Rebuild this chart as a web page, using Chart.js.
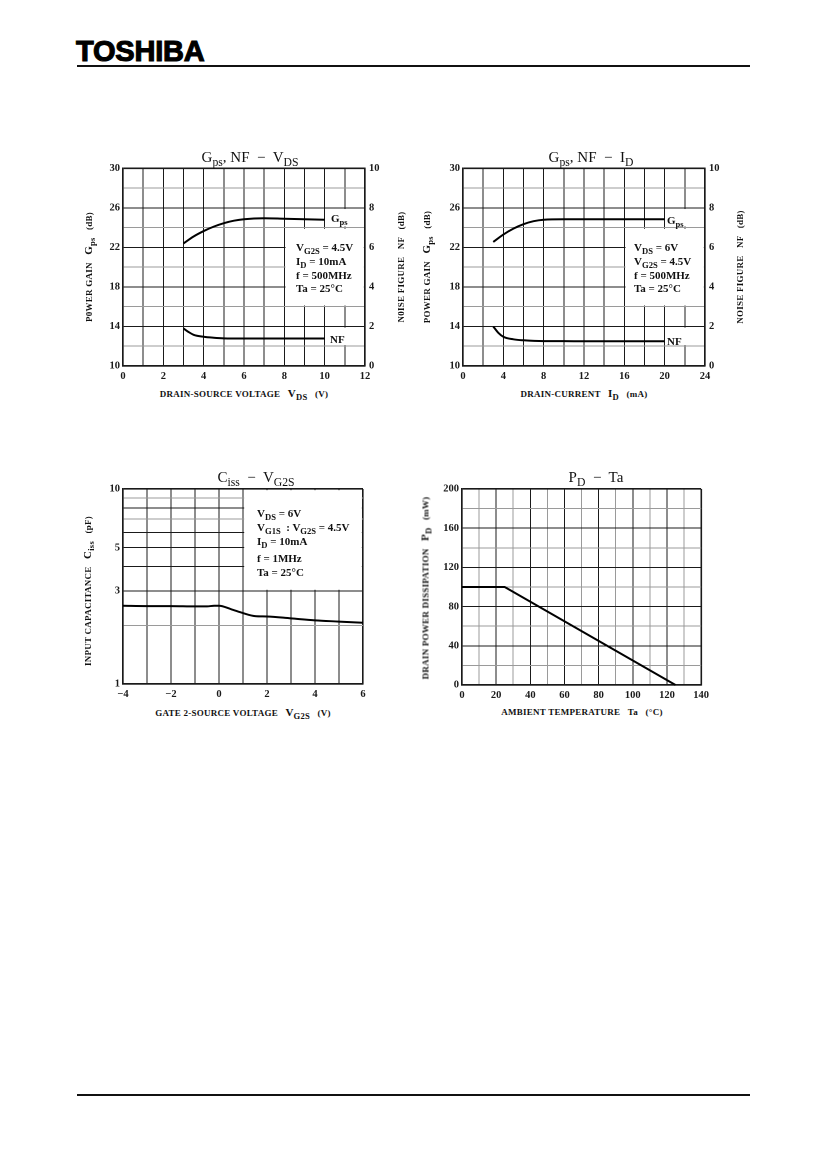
<!DOCTYPE html>
<html><head><meta charset="utf-8">
<script src="https://cdn.jsdelivr.net/npm/chart.js@4.4.1/dist/chart.umd.min.js"></script>
<style>
html,body{margin:0;padding:0;background:#fff;}
body{width:827px;height:1169px;position:relative;overflow:hidden;font-family:"Liberation Serif","DejaVu Serif",serif;color:#111;}
.abs{position:absolute;white-space:nowrap;line-height:1;}
.c{transform:translate(-50%,-50%);}
.l{transform:translate(0,-50%);}
.r{transform:translate(-50%,-50%) rotate(-90deg);}
.s{font-size:78%;position:relative;top:0.3em;}
.ttl{font-size:15px;}
.ax{font-size:9px;font-weight:bold;letter-spacing:0.25px;}
.sy{font-size:11px;font-weight:bold;}
.lg{font-size:11px;font-weight:bold;}
canvas{position:absolute;}
#logo{position:absolute;left:76px;top:37px;font-family:"Liberation Sans","DejaVu Sans",sans-serif;font-weight:900;font-size:29px;letter-spacing:-0.2px;-webkit-text-stroke:1.1px #000;color:#000;line-height:1;transform:scale(1.0,1.02);transform-origin:left top;}
.hr{position:absolute;background:#111;}
</style></head><body>
<div id="logo">TOSHIBA</div>
<div class="hr" style="left:77px;top:65px;width:673px;height:1.5px;"></div>
<div class="hr" style="left:77px;top:1094px;width:673px;height:2px;"></div>

<canvas id="c1" width="322" height="228" style="left:83px;top:158px;width:322px;height:228px;"></canvas>
<canvas id="c2" width="322" height="228" style="left:423px;top:158px;width:322px;height:228px;"></canvas>
<canvas id="c3" width="290" height="225" style="left:83px;top:479px;width:290px;height:225px;"></canvas>
<canvas id="c4" width="291" height="226" style="left:422px;top:479px;width:291px;height:226px;"></canvas>

<!-- Chart 1 texts -->
<div class="abs c ttl" style="left:250px;top:157px;">G<span class="s">ps</span>, NF &nbsp;−&nbsp; V<span class="s">DS</span></div>
<div class="abs l lg" style="left:296px;top:247px;">V<span class="s">G2S</span> = 4.5V</div>
<div class="abs l lg" style="left:296px;top:261px;">I<span class="s">D</span> = 10mA</div>
<div class="abs l lg" style="left:296px;top:275px;">f = 500MHz</div>
<div class="abs l lg" style="left:296px;top:288px;">Ta = 25°C</div>
<div class="abs l lg" style="left:331px;top:218px;">G<span class="s">ps</span></div>
<div class="abs l lg" style="left:330px;top:339px;">NF</div>
<div class="abs c ax" style="left:244px;top:393px;">DRAIN-SOURCE VOLTAGE &nbsp;&nbsp;<span class="sy">V<span class="s">DS</span></span> &nbsp;&nbsp;(V)</div>
<div class="abs r ax" style="left:88px;top:267px;">P0WER GAIN &nbsp;&nbsp;<span class="sy">G<span class="s">ps</span></span> &nbsp;&nbsp;(dB)</div>
<div class="abs r ax" style="left:401px;top:267px;">N0ISE FIGURE &nbsp;&nbsp;NF &nbsp;&nbsp;(dB)</div>

<!-- Chart 2 texts -->
<div class="abs c ttl" style="left:591px;top:157px;">G<span class="s">ps</span>, NF &nbsp;−&nbsp; I<span class="s">D</span></div>
<div class="abs l lg" style="left:634px;top:247px;">V<span class="s">DS</span> = 6V</div>
<div class="abs l lg" style="left:634px;top:261px;">V<span class="s">G2S</span> = 4.5V</div>
<div class="abs l lg" style="left:634px;top:275px;">f = 500MHz</div>
<div class="abs l lg" style="left:634px;top:288px;">Ta = 25°C</div>
<div class="abs l lg" style="left:667px;top:220px;">G<span class="s">ps</span></div>
<div class="abs l lg" style="left:667px;top:341px;">NF</div>
<div class="abs c ax" style="left:584px;top:393px;">DRAIN-CURRENT &nbsp;&nbsp;<span class="sy">I<span class="s">D</span></span> &nbsp;&nbsp;(mA)</div>
<div class="abs r ax" style="left:426px;top:267px;">POWER GAIN &nbsp;&nbsp;<span class="sy">G<span class="s">ps</span></span> &nbsp;&nbsp;(dB)</div>
<div class="abs r ax" style="left:740px;top:267px;">NOISE FIGURE &nbsp;&nbsp;NF &nbsp;&nbsp;(dB)</div>

<!-- Chart 3 texts -->
<div class="abs c ttl" style="left:256px;top:477px;">C<span class="s">iss</span> &nbsp;−&nbsp; V<span class="s">G2S</span></div>
<div class="abs l lg" style="left:257px;top:513px;">V<span class="s">DS</span> = 6V</div>
<div class="abs l lg" style="left:257px;top:527px;">V<span class="s">G1S</span> &nbsp;: V<span class="s">G2S</span> = 4.5V</div>
<div class="abs l lg" style="left:257px;top:541px;">I<span class="s">D</span> = 10mA</div>
<div class="abs l lg" style="left:257px;top:558px;">f = 1MHz</div>
<div class="abs l lg" style="left:257px;top:572px;">Ta = 25°C</div>
<div class="abs c ax" style="left:243px;top:712px;">GATE 2-SOURCE VOLTAGE &nbsp;&nbsp;<span class="sy">V<span class="s">G2S</span></span> &nbsp;&nbsp;(V)</div>
<div class="abs r ax" style="left:87px;top:591px;">INPUT CAPACITANCE &nbsp;&nbsp;<span class="sy">C<span class="s">iss</span></span> &nbsp;&nbsp;(pF)</div>

<!-- Chart 4 texts -->
<div class="abs c ttl" style="left:596px;top:477px;">P<span class="s">D</span> &nbsp;−&nbsp; Ta</div>
<div class="abs c ax" style="left:582px;top:712px;">AMBIENT TEMPERATURE &nbsp;&nbsp;Ta &nbsp;&nbsp;(°C)</div>
<div class="abs r ax" style="left:425px;top:588px;">DRAIN POWER DISSIPATION &nbsp;&nbsp;<span class="sy">P<span class="s">D</span></span> &nbsp;&nbsp;(mW)</div>

<script>
// ---------------- DATA ----------------
// Chart 1: Gps, NF vs VDS
const vdsGps = [3, 3.5, 4, 4.5, 5, 5.5, 6, 7, 8, 9, 10];
const gpsVsVds = [22.4, 23.1, 23.65, 24.1, 24.45, 24.7, 24.85, 24.95, 24.9, 24.85, 24.8];
const vdsNf = [3, 3.25, 3.5, 4, 4.5, 5, 6, 7, 8, 9, 10];
const nfVsVds = [1.9, 1.72, 1.58, 1.48, 1.43, 1.4, 1.39, 1.39, 1.39, 1.39, 1.39];
const vdsTicks = [0, 2, 4, 6, 8, 10, 12];

// Chart 2: Gps, NF vs ID
const idGps = [3, 4, 5, 6, 7, 8, 10, 12, 14, 16, 18, 20];
const gpsVsId = [22.55, 23.3, 23.9, 24.35, 24.65, 24.8, 24.85, 24.85, 24.85, 24.85, 24.85, 24.85];
const idNf = [3, 3.5, 4, 5, 6, 8, 10, 12, 16, 20];
const nfVsId = [2.0, 1.68, 1.48, 1.35, 1.3, 1.26, 1.26, 1.25, 1.25, 1.25];
const idTicks = [0, 4, 8, 12, 16, 20, 24];

const gpsTicks = [10, 14, 18, 22, 26, 30];
const nfTicks = [0, 2, 4, 6, 8, 10];

// Chart 3: Ciss vs VG2S
const vg2s = [-4, -3, -2, -1, -0.5, -0.2, 0, 0.5, 1, 1.5, 2, 3, 4, 5, 6];
const ciss = [2.52, 2.51, 2.51, 2.5, 2.5, 2.52, 2.52, 2.42, 2.31, 2.23, 2.22, 2.17, 2.12, 2.09, 2.06];
const vg2sTicks = [-4, -2, 0, 2, 4, 6];
const cissGrid = [1, 2, 3, 4, 5, 6, 7, 8, 9, 10];
const cissTicks = [1, 3, 5, 10];

// Chart 4: PD vs Ta
const ta = [0, 25, 125];
const pd = [100, 100, 0];
const taTicks = [0, 20, 40, 60, 80, 100, 120, 140];
const pdTicks = [0, 40, 80, 120, 160, 200];

// ---------------- HELPERS ----------------
const pts = (xs, ys) => xs.map((x, i) => ({x, y: ys[i]}));
const fmt = v => (v < 0 ? '\u2212' + Math.abs(v) : String(v));
const TICKFONT = {family: '"Liberation Serif","DejaVu Serif",serif', size: 10.5, weight: 'bold'};
const DARK = '#1a1a1a', GRAY = '#9a9a9a';

function gridOpts(minorTest, lo, hi) {
  return {
    drawTicks: false,
    color: ctx => {
      const v = ctx.tick ? ctx.tick.value : null;
      if (v === lo || v === hi) return DARK;
      return (v !== null && minorTest(v)) ? GRAY : DARK;
    },
    lineWidth: ctx => {
      const v = ctx.tick ? ctx.tick.value : null;
      return (v === lo || v === hi) ? 1.6 : 1;
    }
  };
}
function fixW(w) { return s => { s.width = w; }; }
function fixH(h) { return s => { s.height = h; }; }

const boxPlugin = {
  id: 'boxes',
  beforeDatasetsDraw(chart, args, opts) {
    const {ctx, scales} = chart;
    (opts.list || []).forEach(b => {
      const xs = scales.x, ys = scales.y;
      const l = xs.getPixelForValue(b.x0), r = xs.getPixelForValue(b.x1);
      const t = ys.getPixelForValue(b.y1), bt = ys.getPixelForValue(b.y0);
      ctx.save();
      ctx.fillStyle = '#fff';
      ctx.fillRect(l + 1.2, t + 1.2, r - l - 2.4, bt - t - 2.4);
      ctx.restore();
    });
  }
};

function lineDs(data, axis, straight) {
  return {data, yAxisID: axis || 'y', borderColor: '#000', borderWidth: 2, pointRadius: 0,
          tension: straight ? 0 : 0.4, cubicInterpolationMode: straight ? 'default' : 'monotone',
          fill: false, clip: false};
}

function gainChart(id, xMax, xStep, xLabels, gps, nf, boxes) {
  new Chart(document.getElementById(id), {
    type: 'line',
    data: {datasets: [lineDs(gps, 'y'), lineDs(nf, 'y2')]},
    plugins: [boxPlugin],
    options: {
      responsive: false, animation: false, devicePixelRatio: 2,
      layout: {padding: {top: 10, left: 0, right: 0, bottom: 0}},
      plugins: {legend: {display: false}, tooltip: {enabled: false}, boxes: {list: boxes}},
      scales: {
        x: {type: 'linear', min: 0, max: xMax, afterFit: fixH(20),
            afterBuildTicks: ax => { const t = []; for (let v = 0; v <= xMax; v += xStep) t.push({value: v}); ax.ticks = t; },
            ticks: {autoSkip: false, maxRotation: 0, padding: 4, color: DARK, font: TICKFONT,
                    callback: v => xLabels.includes(v) ? fmt(v) : ''},
            grid: gridOpts(() => false, 0, xMax), border: {color: DARK, width: 1.6}},
        y: {type: 'linear', position: 'left', min: 10, max: 30, afterFit: fixW(40),
            afterBuildTicks: ax => { const t = []; for (let v = 10; v <= 30; v += 2) t.push({value: v}); ax.ticks = t; },
            ticks: {autoSkip: false, padding: 3, color: DARK, font: TICKFONT,
                    callback: v => gpsTicks.includes(v) ? String(v) : ''},
            grid: gridOpts(v => (v - 10) % 4 !== 0, 10, 30), border: {color: DARK, width: 1.6}},
        y2: {type: 'linear', position: 'right', min: 0, max: 10, afterFit: fixW(40),
            afterBuildTicks: ax => { ax.ticks = nfTicks.map(v => ({value: v})); },
            ticks: {autoSkip: false, padding: 4, color: DARK, font: TICKFONT, callback: v => String(v)},
            grid: {display: false, drawTicks: false}, border: {color: DARK, width: 1.6}}
      }
    }
  });
}

gainChart('c1', 12, 1, vdsTicks, pts(vdsGps, gpsVsVds), pts(vdsNf, nfVsVds), [
  {x0: 8, x1: 12, y0: 16, y1: 24},
  {x0: 10, x1: 11.6, y0: 24, y1: 26},
  {x0: 10, x1: 11.6, y0: 12, y1: 14}
]);
gainChart('c2', 24, 2, idTicks, pts(idGps, gpsVsId), pts(idNf, nfVsId), [
  {x0: 16, x1: 24, y0: 16, y1: 24},
  {x0: 20, x1: 22.8, y0: 24, y1: 26},
  {x0: 20, x1: 22.8, y0: 12, y1: 14}
]);

// Chart 3
new Chart(document.getElementById('c3'), {
  type: 'line',
  data: {datasets: [lineDs(pts(vg2s, ciss), 'y', false)]},
  plugins: [boxPlugin],
  options: {
    responsive: false, animation: false, devicePixelRatio: 2,
    layout: {padding: {top: 10, left: 0, right: 10, bottom: 0}},
    plugins: {legend: {display: false}, tooltip: {enabled: false}, boxes: {list: [{x0: 1, x1: 6, y0: 3, y1: 10}]}},
    scales: {
      x: {type: 'linear', min: -4, max: 6, afterFit: fixH(20),
          afterBuildTicks: ax => { const t = []; for (let v = -4; v <= 6; v += 1) t.push({value: v}); ax.ticks = t; },
          ticks: {autoSkip: false, maxRotation: 0, padding: 4, color: DARK, font: TICKFONT,
                  callback: v => vg2sTicks.includes(v) ? fmt(v) : ''},
          grid: gridOpts(() => false, -4, 6), border: {color: DARK, width: 1.6}},
      y: {type: 'logarithmic', min: 1, max: 10, afterFit: fixW(40),
          afterBuildTicks: ax => { ax.ticks = cissGrid.map(v => ({value: v})); },
          ticks: {autoSkip: false, padding: 3, color: DARK, font: TICKFONT,
                  callback: v => cissTicks.includes(v) ? String(v) : ''},
          grid: gridOpts(v => v === 2 || v === 7 || v === 9, 1, 10), border: {color: DARK, width: 1.6}}
    }
  }
});

// Chart 4
new Chart(document.getElementById('c4'), {
  type: 'line',
  data: {datasets: [lineDs(pts(ta, pd), 'y', true)]},
  options: {
    responsive: false, animation: false, devicePixelRatio: 2,
    layout: {padding: {top: 10, left: 0, right: 10, bottom: 0}},
    plugins: {legend: {display: false}, tooltip: {enabled: false}},
    scales: {
      x: {type: 'linear', min: 0, max: 140, afterFit: fixH(20),
          afterBuildTicks: ax => { const t = []; for (let v = 0; v <= 140; v += 10) t.push({value: v}); ax.ticks = t; },
          ticks: {autoSkip: false, maxRotation: 0, padding: 4, color: DARK, font: TICKFONT,
                  callback: v => taTicks.includes(v) ? String(v) : ''},
          grid: gridOpts(v => v % 20 !== 0, 0, 140), border: {color: DARK, width: 1.6}},
      y: {type: 'linear', min: 0, max: 200, afterFit: fixW(40),
          afterBuildTicks: ax => { const t = []; for (let v = 0; v <= 200; v += 20) t.push({value: v}); ax.ticks = t; },
          ticks: {autoSkip: false, padding: 3, color: DARK, font: TICKFONT,
                  callback: v => pdTicks.includes(v) ? String(v) : ''},
          grid: gridOpts(v => v % 40 !== 0, 0, 200), border: {color: DARK, width: 1.6}}
    }
  }
});
</script>
</body></html>
